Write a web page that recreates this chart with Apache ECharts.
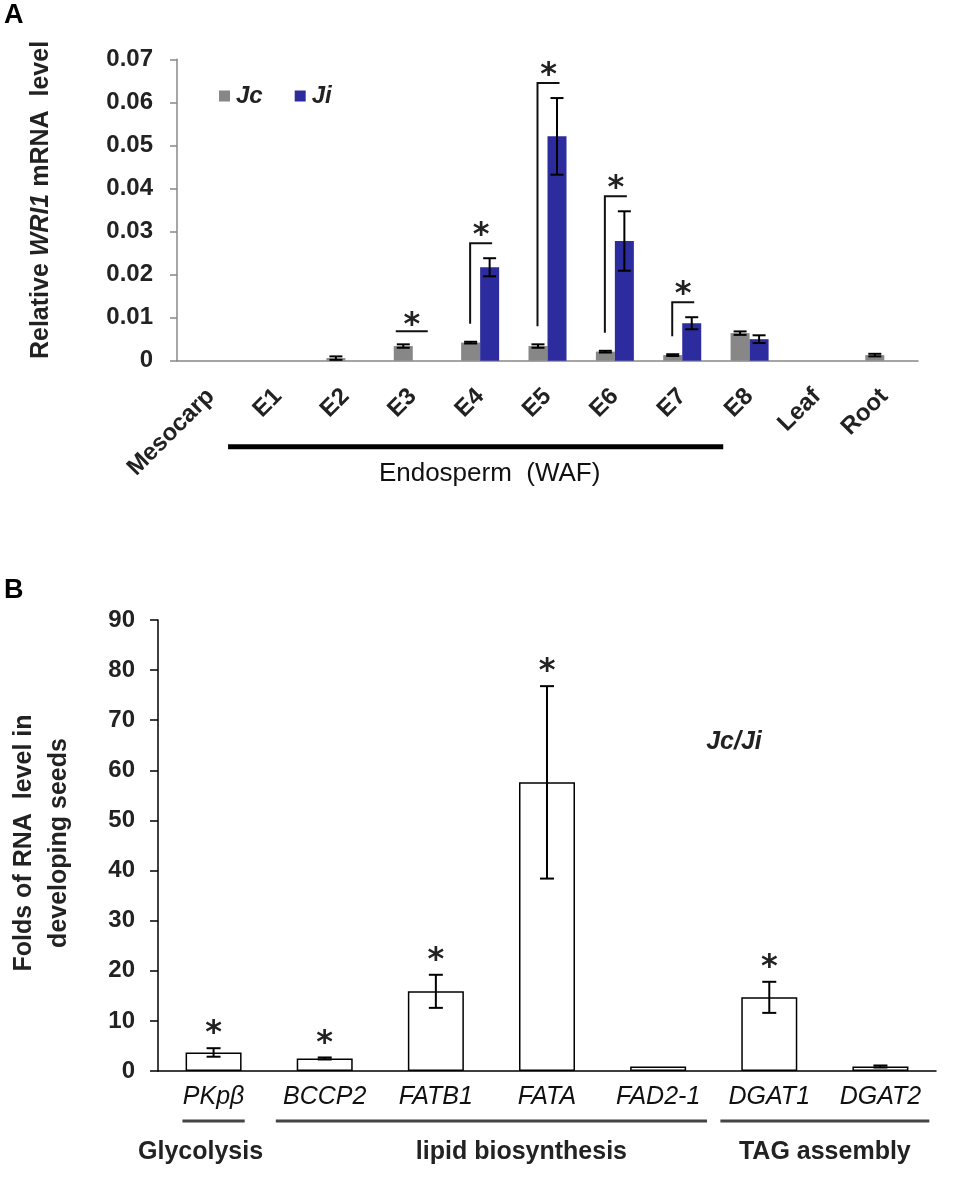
<!DOCTYPE html>
<html>
<head>
<meta charset="utf-8">
<title>WRI1 expression</title>
<script src="https://cdn.jsdelivr.net/npm/echarts@6/dist/echarts.min.js"></script>
<style>body{margin:0;background:#fff}</style>
</head>
<body>
<div id="main" style="width:955px;height:1178px;"></div>
<script type="text/javascript">
// ---- panel A : relative WRI1 mRNA level ----
var tissues = ['Mesocarp', 'E1', 'E2', 'E3', 'E4', 'E5', 'E6', 'E7', 'E8', 'Leaf', 'Root'];
var jcMean = [0, 0, 0.0006, 0.0034, 0.0042, 0.0034, 0.0021, 0.0013, 0.0064, 0, 0.0013];
var jcErr  = [0, 0, 0.0004, 0.0004, 0.0002, 0.0004, 0.0002, 0.0002, 0.0004, 0, 0.0003];
var jiMean = [0, 0, 0, 0, 0.0217, 0.0521, 0.0278, 0.0087, 0.0050, 0, 0];
var jiErr  = [0, 0, 0, 0, 0.0021, 0.0089, 0.0069, 0.0014, 0.0009, 0, 0];
var sigA   = [0, 0, 0, 1, 1, 1, 1, 1, 0, 0, 0];
var endoFirst = 1, endoLast = 7;

// ---- panel B : Jc/Ji fold change ----
var genes = ['PKpβ', 'BCCP2', 'FATB1', 'FATA', 'FAD2-1', 'DGAT1', 'DGAT2'];
var foldMean = [3.7, 2.5, 15.9, 57.6, 0.9, 14.7, 0.9];
var foldErr  = [0.85, 0.2, 3.3, 19.2, 0, 3.1, 0.2];
var sigB     = [1, 1, 1, 1, 0, 1, 0];
var groupNames = ['Glycolysis', 'lipid biosynthesis', 'TAG assembly'];
var groupFirst = [0, 1, 5];
var groupLast  = [0, 4, 6];

var FONT = 'Liberation Sans, Arial, sans-serif';
var STAR_FONT = 'DejaVu Sans, sans-serif';
var STAR_SIZE = 32;

var chart = echarts.init(document.getElementById('main'));

function star(x, yc) {
  // yc = wanted centre of the glyph
  return {
    type: 'text', x: x, y: yc + STAR_SIZE * 0.2,
    style: { text: '*', fontSize: STAR_SIZE, fontWeight: 'bold', fontFamily: STAR_FONT, fill: '#222', align: 'center', verticalAlign: 'middle' }
  };
}

function errSeries(xi, yi, means, errs, shift, cap) {
  return {
    type: 'custom', xAxisIndex: xi, yAxisIndex: yi, z: 5, silent: true,
    data: means.map(function (m, i) { return [i, m, errs[i]]; }),
    renderItem: function (params, api) {
      var e = api.value(2);
      if (!e) return null;
      var i = api.value(0), m = api.value(1);
      var t = api.coord([i, m + e]), b = api.coord([i, m - e]);
      var x = t[0] + shift;
      var st = { stroke: '#000', lineWidth: 2 };
      return {
        type: 'group', children: [
          { type: 'line', shape: { x1: x, y1: t[1], x2: x, y2: b[1] }, style: st },
          { type: 'line', shape: { x1: x - cap, y1: t[1], x2: x + cap, y2: t[1] }, style: st },
          { type: 'line', shape: { x1: x - cap, y1: b[1], x2: x + cap, y2: b[1] }, style: st }
        ]
      };
    }
  };
}

var option = {
  animation: false,
  textStyle: { fontFamily: FONT },
  grid: [
    { left: 177, top: 59.3, width: 741, height: 301.4, outerBoundsMode: 'none' },
    { left: 158, top: 620, width: 778, height: 451, outerBoundsMode: 'none' }
  ],
  legend: {
    data: ['Jc', 'Ji'], left: 219, top: 84, padding: 0, itemGap: 32,
    icon: 'rect', itemWidth: 11, itemHeight: 11, selectedMode: false,
    textStyle: { fontFamily: FONT, fontSize: 24, fontWeight: 'bold', fontStyle: 'italic', color: '#222', padding: [0, 0, 0, 1] }
  },
  xAxis: [
    {
      type: 'category', gridIndex: 0, data: tissues,
      axisLine: { lineStyle: { color: '#888', width: 1.5 } },
      axisTick: { length: 8, lineStyle: { color: '#888', width: 1.5 } },
      axisLabel: { rotate: 45, margin: 32, interval: 0, fontSize: 24, fontWeight: 'bold', color: '#222' }
    },
    {
      type: 'category', gridIndex: 1, data: genes,
      axisLine: { lineStyle: { color: '#000', width: 1.5 } },
      axisTick: { length: 13, lineStyle: { color: '#000', width: 1.5 } },
      axisLabel: { margin: 14, interval: 0, fontSize: 25, fontStyle: 'italic', color: '#111' }
    }
  ],
  yAxis: [
    {
      type: 'value', gridIndex: 0, min: 0, max: 0.07, interval: 0.01,
      splitLine: { show: false },
      axisLine: { show: true, lineStyle: { color: '#888', width: 1.5 } },
      axisTick: { show: true, length: 7, lineStyle: { color: '#888', width: 1.5 } },
      axisLabel: { margin: 24, fontSize: 24, fontWeight: 'bold', color: '#222' }
    },
    {
      type: 'value', gridIndex: 1, min: 0, max: 90, interval: 10,
      splitLine: { show: false },
      axisLine: { show: true, lineStyle: { color: '#000', width: 1.5 } },
      axisTick: { show: true, length: 8, lineStyle: { color: '#000', width: 1.5 } },
      axisLabel: { margin: 23, fontSize: 24, fontWeight: 'bold', color: '#222' }
    }
  ],
  graphic: [
    { type: 'text', left: 4, top: 2, style: { text: 'A', fontFamily: FONT, fontSize: 27, fontWeight: 'bold', fill: '#000' } },
    { type: 'text', left: 4, top: 577, style: { text: 'B', fontFamily: FONT, fontSize: 27, fontWeight: 'bold', fill: '#000' } },
    {
      type: 'text', x: 41, y: 200, rotation: Math.PI / 2,
      style: {
        text: '{b|Relative }{i|WRI1}{b| mRNA  level}', align: 'center', verticalAlign: 'middle',
        rich: {
          b: { fontFamily: FONT, fontSize: 25, fontWeight: 'bold', fill: '#222' },
          i: { fontFamily: FONT, fontSize: 25, fontWeight: 'bold', fontStyle: 'italic', fill: '#222' }
        }
      }
    },
    {
      type: 'text', x: 41.5, y: 843, rotation: Math.PI / 2,
      style: {
        text: 'Folds of RNA  level in\ndeveloping seeds', align: 'center', verticalAlign: 'middle',
        fontFamily: FONT, fontSize: 25, fontWeight: 'bold', lineHeight: 35, fill: '#222'
      }
    },
    {
      type: 'text', x: 734, y: 742,
      style: { text: 'Jc/Ji', align: 'center', verticalAlign: 'middle', fontFamily: FONT, fontSize: 25, fontWeight: 'bold', fontStyle: 'italic', fill: '#222' }
    }
  ],
  series: [
    { name: 'Jc', type: 'bar', xAxisIndex: 0, yAxisIndex: 0, data: jcMean, barWidth: 19, barGap: '0%', itemStyle: { color: '#878787' } },
    { name: 'Ji', type: 'bar', xAxisIndex: 0, yAxisIndex: 0, data: jiMean, barWidth: 19, barGap: '0%', itemStyle: { color: '#2c2c9e' } },
    errSeries(0, 0, jcMean, jcErr, -9.5, 6.5),
    errSeries(0, 0, jiMean, jiErr, 9.5, 6.5),
    {
      // significance brackets and stars, panel A
      type: 'custom', xAxisIndex: 0, yAxisIndex: 0, z: 6, silent: true,
      data: tissues.map(function (t, i) { return [i, jcMean[i] + jcErr[i]]; }),
      renderItem: function (params, api) {
        var i = params.dataIndex;
        if (!sigA[i]) return null;
        var c = api.coord([i, 0])[0];
        var jcTop = api.coord([i, jcMean[i] + jcErr[i]])[1];
        var st = { stroke: '#111', lineWidth: 2 };
        if (!jiMean[i]) {
          var ly = jcTop - 13;
          return { type: 'group', children: [
            { type: 'line', shape: { x1: c - 17, y1: ly, x2: c + 15, y2: ly }, style: st },
            star(c - 1, ly - 12)
          ] };
        }
        var jiTop = api.coord([i, jiMean[i] + jiErr[i]])[1];
        var top = jiTop - 15, bot = jcTop - 18;
        return { type: 'group', children: [
          { type: 'polyline', shape: { points: [[c - 10, bot], [c - 10, top], [c + 12, top]] }, style: { stroke: '#111', lineWidth: 2, fill: null } },
          star(c + 1, top - 14)
        ] };
      }
    },
    {
      // Endosperm (WAF) bracket under labels
      type: 'custom', xAxisIndex: 0, yAxisIndex: 0, silent: true,
      data: [[endoFirst, endoLast]],
      renderItem: function (params, api) {
        var x1 = api.coord([api.value(0), 0])[0] - 50;
        var x2 = api.coord([api.value(1), 0])[0] + 41;
        var y0 = api.coord([0, 0])[1];
        return { type: 'group', children: [
          { type: 'line', shape: { x1: x1, y1: y0 + 86, x2: x2, y2: y0 + 86 }, style: { stroke: '#000', lineWidth: 5 } },
          { type: 'text', x: (x1 + x2) / 2 + 14, y: y0 + 113,
            style: { text: 'Endosperm  (WAF)', fontFamily: FONT, fontSize: 26, fill: '#111', align: 'center', verticalAlign: 'middle' } }
        ] };
      }
    },
    {
      name: 'Jc/Ji', type: 'bar', xAxisIndex: 1, yAxisIndex: 1, data: foldMean, barWidth: 56,
      itemStyle: { color: '#fff', borderColor: '#000', borderWidth: 1.5 }
    },
    errSeries(1, 1, foldMean, foldErr, 0, 7),
    {
      // stars panel B
      type: 'custom', xAxisIndex: 1, yAxisIndex: 1, z: 6, silent: true,
      data: foldMean.map(function (m, i) { return [i, m + foldErr[i]]; }),
      renderItem: function (params, api) {
        var i = params.dataIndex;
        if (!sigB[i]) return null;
        var p = api.coord([i, api.value(1)]);
        return star(p[0], p[1] - 20.5);
      }
    },
    {
      // pathway groups under gene labels
      type: 'custom', xAxisIndex: 1, yAxisIndex: 1, silent: true,
      data: groupNames.map(function (g, k) { return [groupFirst[k], groupLast[k]]; }),
      renderItem: function (params, api) {
        var k = params.dataIndex;
        var f = api.value(0), l = api.value(1);
        var band = api.size([1, 0])[0];
        var half = f === l ? band * 0.28 : band * 0.44;
        var x1 = api.coord([f, 0])[0] - half;
        var x2 = api.coord([l, 0])[0] + half;
        var y0 = api.coord([0, 0])[1];
        var shift = [-13, 30, 0][k];
        return { type: 'group', children: [
          { type: 'line', shape: { x1: x1, y1: y0 + 50, x2: x2, y2: y0 + 50 }, style: { stroke: '#444', lineWidth: 3 } },
          { type: 'text', x: (x1 + x2) / 2 + shift, y: y0 + 81,
            style: { text: groupNames[k], fontFamily: FONT, fontSize: 25, fontWeight: 'bold', fill: '#222', align: 'center', verticalAlign: 'middle' } }
        ] };
      }
    }
  ]
};
chart.setOption(option);
</script>
</body>
</html>
